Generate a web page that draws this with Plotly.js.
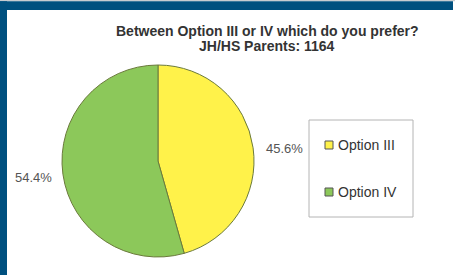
<!DOCTYPE html>
<html>
<head>
<meta charset="utf-8">
<script src="https://cdn.plot.ly/plotly-3.0.1.min.js"></script>
<style>html,body{margin:0;padding:0;background:#fff;}#chart{width:455px;height:275px;}</style>
</head>
<body>
<div id="chart"></div>
<script>
var categories = ["Option III", "Option IV"];
var values = [45.6, 54.4];
var sliceColors = ["#fff24a", "#8cc85a"];
var titleLines = ["Between Option III or IV which do you prefer?", "JH/HS Parents: 1164"];

var W = 455, H = 275;
function px(x){ return x / W; }
function py(y){ return 1 - y / H; }
var FONT = "Liberation Sans, Arial, sans-serif";

var data = [{
  type: "pie",
  labels: categories,
  values: values,
  sort: false,
  direction: "clockwise",
  rotation: 0,
  textinfo: "none",
  hoverinfo: "label+percent",
  marker: { colors: sliceColors, line: { color: "#6b7a3c", width: 1 } },
  domain: { x: [px(62), px(254)], y: [py(257), py(65)] },
  showlegend: false
}];

var shapes = [
  { type: "rect", xref: "paper", yref: "paper", x0: 0, x1: 1, y0: py(1.2), y1: 1, fillcolor: "#c8ccd0", line: { width: 0 }, layer: "above" },
  { type: "rect", xref: "paper", yref: "paper", x0: 0, x1: px(453), y0: py(10), y1: py(1.2), fillcolor: "#00507f", line: { width: 0 }, layer: "above" },
  { type: "rect", xref: "paper", yref: "paper", x0: 0, x1: px(7), y0: 0, y1: py(1.2), fillcolor: "#00507f", line: { width: 0 }, layer: "above" },
  { type: "rect", xref: "paper", yref: "paper", x0: px(309), x1: px(413), y0: py(217), y1: py(120), fillcolor: "rgba(0,0,0,0)", line: { color: "#b4b4b4", width: 1 } }
];

var annotations = [];
var titleY = [31, 46];
titleLines.forEach(function(t, i){
  annotations.push({ xref: "paper", yref: "paper", x: px(267), y: py(titleY[i]), xanchor: "center", yanchor: "middle", showarrow: false, text: "<b>" + t + "</b>", font: { family: FONT, size: 14, color: "#333" } });
});

var legendY = [145, 192];
categories.forEach(function(c, i){
  var yc = legendY[i];
  shapes.push({ type: "rect", xref: "paper", yref: "paper", x0: px(325), x1: px(333), y0: py(yc + 4), y1: py(yc - 4), fillcolor: sliceColors[i], line: { color: "#555", width: 1 } });
  annotations.push({ xref: "paper", yref: "paper", x: px(336), y: py(yc), xanchor: "left", yanchor: "middle", showarrow: false, text: c, font: { family: FONT, size: 14, color: "#333" } });
});

var labelPos = [[284, 148], [33, 177]];
values.forEach(function(v, i){
  annotations.push({ xref: "paper", yref: "paper", x: px(labelPos[i][0]), y: py(labelPos[i][1]), xanchor: "center", yanchor: "middle", showarrow: false, text: v.toFixed(1) + "%", font: { family: FONT, size: 13, color: "#555" } });
});

var layout = {
  width: W, height: H,
  margin: { l: 0, r: 0, t: 0, b: 0 },
  paper_bgcolor: "#ffffff",
  shapes: shapes,
  annotations: annotations,
  showlegend: false
};

Plotly.newPlot("chart", data, layout, { displayModeBar: false, staticPlot: true });
</script>
</body>
</html>
